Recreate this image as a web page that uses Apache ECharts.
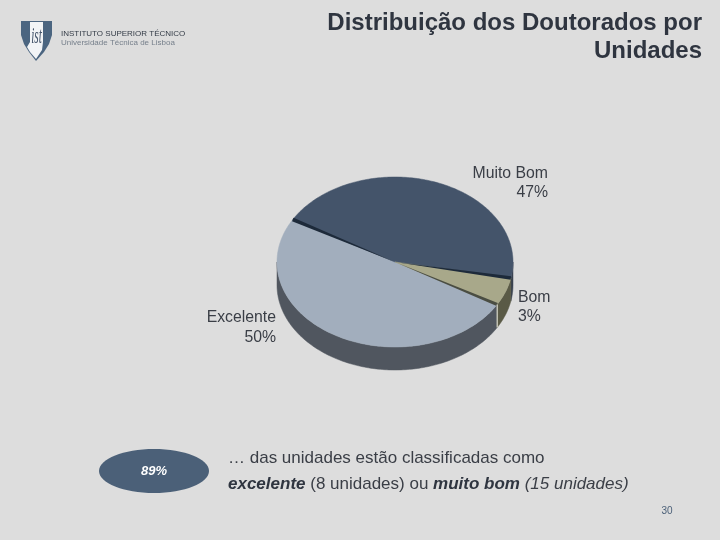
<!DOCTYPE html>
<html><head><meta charset="utf-8">
<style>html,body{margin:0;padding:0;background:#dddddd}#c{width:720px;height:540px}</style>
<script src="https://cdn.jsdelivr.net/npm/echarts@6/dist/echarts.min.js"></script>
</head><body><div id="c"></div>
<script>
const categories = ['Excelente', 'Muito Bom', 'Bom'];
const printedPercent = [50, 47, 3];
// slice shares as drawn in the tilted picture (arc widths)
const drawnShare = [50, 44.7, 5.3];
const topColors = ['#a2aebd', '#44546a', '#a8a88a'];
const sideColors = ['#50565f', '#3a4350', '#5a5a46'];
const startDeg = 30;
const geo = {cx: 395, cy: 262, rx: 118, ry: 85, depth: 23};

function rows() {
  let acc = startDeg;
  return categories.map((c, i) => {
    const a0 = acc, a1 = acc + drawnShare[i] * 3.6;
    acc = a1;
    return [a0, a1, i];
  });
}
function pt(deg, dy) {
  const r = deg * Math.PI / 180;
  return [geo.cx + geo.rx * Math.cos(r), geo.cy + geo.ry * Math.sin(r) + (dy || 0)];
}
function arc(a0, a1, dy) {
  const out = [];
  const n = Math.max(2, Math.ceil(Math.abs(a1 - a0)));
  for (let k = 0; k <= n; k++) out.push(pt(a0 + (a1 - a0) * k / n, dy));
  return out;
}
function renderSlice(params, api) {
  const a0 = api.value(0), a1 = api.value(1), i = api.value(2);
  const kids = [];
  const s0 = Math.max(a0, 0), s1 = Math.min(a1, 180);
  const s2 = Math.max(a0, 360), s3 = Math.min(a1, 540);
  [[s0, s1], [s2, s3]].forEach(([p, q]) => {
    if (q > p) {
      kids.push({type: 'polygon',
        shape: {points: arc(p, q, 0).concat(arc(q, p, geo.depth))},
        style: {fill: sideColors[i], stroke: sideColors[i], lineWidth: 0.5}});
    }
  });
  kids.push({type: 'polygon',
    shape: {points: [[geo.cx, geo.cy]].concat(arc(a0, a1, 0))},
    style: {fill: topColors[i], stroke: topColors[i], lineWidth: 0.5}});
  return {type: 'group', children: kids};
}
// tapered dark seam from the pie centre to the rim
function renderEdges(params, api) {
  const a = api.value(0), color = api.value(1), w = api.value(2);
  const p = pt(a, 0);
  const dx = p[0] - geo.cx, dy = p[1] - geo.cy, len = Math.hypot(dx, dy);
  const nx = -dy / len * w / 2, ny = dx / len * w / 2;
  return {type: 'polygon',
    shape: {points: [[geo.cx, geo.cy], [p[0] + nx, p[1] + ny], [p[0] - nx, p[1] - ny]]},
    style: {fill: color}};
}
// pale sliver on the side wall at the Excelente / Bom boundary
function renderSliver(params, api) {
  const p = pt(api.value(0), 0);
  return {type: 'line', shape: {x1: p[0], y1: p[1], x2: p[0], y2: p[1] + geo.depth},
    style: {stroke: '#d8d8cc', lineWidth: 1.2}};
}
const r = rows();
const txt = (x, y, text, font, fill, align) => ({type: 'text', x, y,
  style: {text, font, fill, textAlign: align || 'left', textVerticalAlign: 'middle'}});
const label = '15.8px "Liberation Sans"';
const body = '17px "Liberation Sans"';
const ink = '#3a3e46';
const option = {
  backgroundColor: '#dddddd',
  animation: false,
  series: [
    {type: 'custom', coordinateSystem: 'none', silent: true, data: r, renderItem: renderSlice},
    {type: 'custom', coordinateSystem: 'none', silent: true, z: 3,
     data: [[r[1][0], '#1d2a3a', 4], [r[1][1], '#1d2a3a', 3.5], [r[2][1], '#4a4d42', 3]],
     renderItem: renderEdges},
    {type: 'custom', coordinateSystem: 'none', silent: true, z: 4,
     data: [[r[0][0]]], renderItem: renderSliver}
  ],
  graphic: [
    {type: 'polygon', shape: {points: [[21,21],[52,21],[52,35],[49,44],[44,52],[36,61],[29,52],[24,44],[21,35]]}, style: {fill: '#4b6580'}},
    {type: 'polygon', shape: {points: [[30,22],[43,22],[43,42],[42,50],[36,59],[30,52],[27,47],[30,42]]}, style: {fill: '#f2f4f6'}},
    {type: 'text', x: 36.5, y: 37, scaleX: 0.75, scaleY: 1.5, style: {text: 'ist', font: 'italic 15px "Liberation Serif"', fill: '#44546a', textAlign: 'center', textVerticalAlign: 'middle'}},
    txt(61, 34, 'INSTITUTO SUPERIOR TÉCNICO', '8px "Liberation Sans"', '#333b46'),
    txt(61, 43, 'Universidade Técnica de Lisboa', '8px "Liberation Sans"', '#77808c'),
    txt(702, 23, 'Distribuição dos Doutorados por', 'bold 24px "Liberation Sans"', '#2f3540', 'right'),
    txt(702, 51, 'Unidades', 'bold 24px "Liberation Sans"', '#2f3540', 'right'),
    txt(548, 174, 'Muito Bom', label, ink, 'right'),
    txt(548, 193, printedPercent[1] + '%', label, ink, 'right'),
    txt(518, 298, 'Bom', label, ink),
    txt(518, 317, printedPercent[2] + '%', label, ink),
    txt(276, 318, 'Excelente', label, ink, 'right'),
    txt(276, 338, printedPercent[0] + '%', label, ink, 'right'),
    {type: 'ellipse', shape: {cx: 154, cy: 471, rx: 55, ry: 22}, style: {fill: '#4b6078'}},
    txt(154, 471, '89%', 'italic bold 13px "Liberation Sans"', '#ffffff', 'center'),
    txt(228, 458, '… das unidades estão classificadas como', body, ink),
    {type: 'text', x: 228, y: 484, style: {
      text: '{b|excelente} (8 unidades) ou {b|muito bom} {i|(15 unidades)}',
      font: body, fill: ink, textVerticalAlign: 'middle',
      rich: {b: {font: 'italic bold 17px "Liberation Sans"', fill: '#2f3540'},
             i: {font: 'italic 17px "Liberation Sans"', fill: ink}}}},
    txt(667, 511, '30', '10px "Liberation Sans"', '#4b6078', 'center')
  ]
};
const chart = echarts.init(document.getElementById('c'), null, {renderer: 'canvas'});
chart.setOption(option);
</script></body></html>
